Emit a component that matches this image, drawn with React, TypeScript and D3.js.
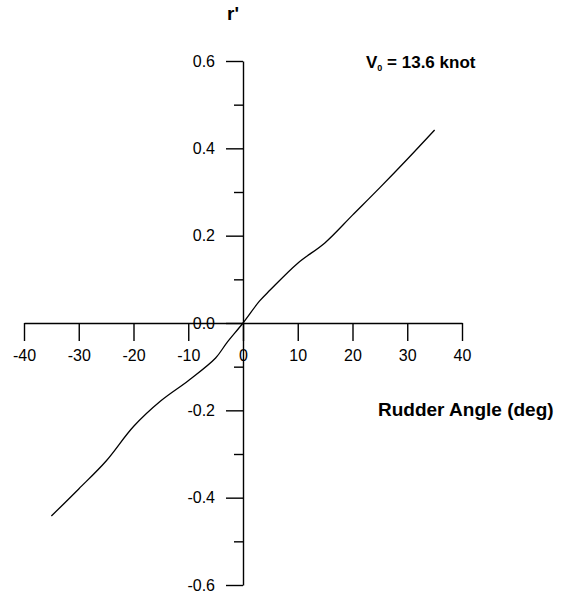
import React, { useEffect, useRef } from "react";
import * as d3 from "d3";

// rudder angle (deg) vs non-dimensional yaw rate r'
const rudderAngle = [-35, -30, -25, -20, -15, -10, -5, -3, 0, 3, 5, 10, 15, 20, 25, 30, 35];
const yawRate = [-0.442, -0.38, -0.316, -0.237, -0.178, -0.132, -0.08, -0.046, 0, 0.05, 0.076, 0.137, 0.184, 0.247, 0.31, 0.375, 0.442];

const xTicks = [-40, -30, -20, -10, 0, 10, 20, 30, 40];
const yTicks = [-0.6, -0.4, -0.2, 0.0, 0.2, 0.4, 0.6];
const yMinorTicks = [-0.5, -0.3, -0.1, 0.1, 0.3, 0.5];

const FONT = "'Liberation Sans', Arial, Helvetica, sans-serif";

export default function App() {
    const ref = useRef<SVGSVGElement>(null);

    useEffect(() => {
        const svg = d3.select(ref.current);
        svg.selectAll("*").remove();

        const x = d3.scaleLinear().domain([-40, 40]).range([24, 462]);
        const y = d3.scaleLinear().domain([-0.6, 0.6]).range([585, 61]);

        // plain hyphen instead of d3's unicode minus
        const fmtX = (d: d3.NumberValue) => String(d);
        const fmtY = (d: d3.NumberValue) => (+d).toFixed(1).replace("\u2212", "-");

        // x axis through origin, ticks pointing down
        const gx = svg.append("g")
            .attr("transform", "translate(0," + y(0) + ")")
            .call(d3.axisBottom(x).tickValues(xTicks).tickSize(18).tickSizeOuter(0).tickPadding(9).tickFormat(fmtX));

        // y axis through origin
        const gy = svg.append("g")
            .attr("transform", "translate(" + x(0) + ",0)")
            .call(d3.axisLeft(y).tickValues(yTicks).tickSize(17).tickSizeOuter(0).tickPadding(11).tickFormat(fmtY));

        svg.append("g")
            .attr("transform", "translate(" + x(0) + ",0)")
            .call(d3.axisLeft(y).tickValues(yMinorTicks).tickSize(9).tickFormat(() => ""))
            .call(g => g.select(".domain").remove());

        svg.selectAll(".domain, .tick line")
            .attr("stroke", "#000")
            .attr("stroke-width", 1.4);

        [gx, gy].forEach(g => {
            g.attr("font-size", null).attr("font-family", null);
            g.selectAll("text")
                .attr("fill", "#000")
                .style("font-family", FONT)
                .style("font-size", "16px");
        });

        const line = d3.line<number>()
            .x((_, i) => x(rudderAngle[i]))
            .y(d => y(d))
            .curve(d3.curveCatmullRom);

        svg.append("path")
            .datum(yawRate)
            .attr("fill", "none")
            .attr("stroke", "#000")
            .attr("stroke-width", 1.3)
            .attr("d", line);

        svg.append("text")
            .attr("x", 233)
            .attr("y", 20)
            .attr("text-anchor", "middle")
            .style("font-family", FONT)
            .style("font-weight", "bold")
            .style("font-size", "19px")
            .text("r'");

        const v = svg.append("text")
            .attr("x", 366)
            .attr("y", 68)
            .style("font-family", FONT)
            .style("font-weight", "bold")
            .style("font-size", "17px");
        v.append("tspan").text("V");
        v.append("tspan").attr("dy", 3).style("font-size", "9px").text("0");
        v.append("tspan").attr("dy", -3).text("  = 13.6 knot");

        svg.append("text")
            .attr("x", 378)
            .attr("y", 416)
            .style("font-family", FONT)
            .style("font-weight", "bold")
            .style("font-size", "19px")
            .text("Rudder Angle (deg)");
    }, []);

    return (
        <svg
            ref={ref}
            width={563}
            height={598}
            style={{ position: "absolute", left: 0, top: 0, background: "#fff" }}
        />
    );
}
